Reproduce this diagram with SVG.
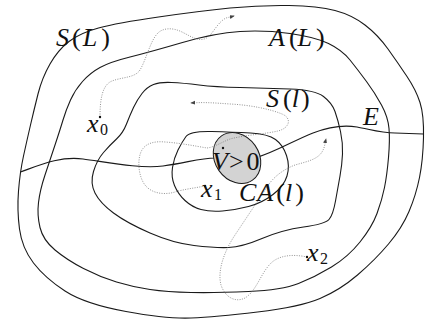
<svg xmlns="http://www.w3.org/2000/svg" width="431" height="320" viewBox="0 0 431 320">
<style>
.c{fill:none;stroke:#1a1a1a;stroke-width:1.1;stroke-linejoin:round}
.d{fill:none;stroke:#777;stroke-width:0.8;stroke-dasharray:1 1.4}
.t{font-family:"Liberation Serif","DejaVu Serif",serif;fill:#111;font-size:26px}
.i{font-style:italic}
.sub{font-size:16px}
.pt{fill:#111}
</style>
<defs>
<marker id="ar" viewBox="0 0 6 6" refX="5" refY="3" markerWidth="5" markerHeight="5" markerUnits="userSpaceOnUse" orient="auto">
<path d="M0,0.6 L6,3 L0,5.4 Z" fill="#444"/>
</marker>
</defs>
<rect width="431" height="320" fill="#fff"/>
<g id="curves">
<path id="SL" class="c" d="M 98.5,28 Q 117,23 158.5,17 Q 200,11 230,8 Q 260,5 289,5.5 Q 318,6 335,10.5 Q 352,15 365,25 Q 378,35 388,49 Q 398,63 407,76.5 Q 416,90 420,102.5 Q 424,115 423.5,137.5 Q 423,160 419.5,177.5 Q 416,195 409,211.5 Q 402,228 388.5,244 Q 375,260 357.5,275 Q 340,290 320,298.5 Q 300,307 257.5,312 Q 215,317 191,318 Q 167,319 126,311.5 Q 85,304 65,291 Q 45,278 33.5,263 Q 22,248 19.5,229 Q 17,210 18.5,191 Q 20,172 23.5,156 Q 27,140 30.5,125 Q 34,110 38,94 Q 42,78 50,64 Q 58,50 69,41.5 Q 80,33 98.5,28 Z"/>
<path id="AL" class="c" d="M 100,67.5 Q 110,62 130,57 Q 150,52 182.5,42.5 Q 215,33 240,31.5 Q 265,30 290,33.5 Q 315,37 328.5,43.5 Q 342,50 350,60 Q 358,70 366.5,81.5 Q 375,93 381.5,105 Q 388,117 389,128.5 Q 390,140 388.5,157.5 Q 387,175 384.5,187.5 Q 382,200 377,213.5 Q 372,227 360,242 Q 348,257 331.5,267 Q 315,277 298.5,283.5 Q 282,290 248.5,291.5 Q 215,293 191,292.5 Q 167,292 150,289.5 Q 133,287 116.5,282 Q 100,277 83.5,268.5 Q 67,260 55,250 Q 43,240 40,227.5 Q 37,215 38.5,202.5 Q 40,190 45,175 Q 50,160 55,145 Q 60,130 63,120 Q 66,110 70.5,100 Q 75,90 82.5,81.5 Q 90,73 100,67.5 Z"/>
<path id="Sl" class="c" d="M 153.5,84.5 Q 160,82 171.5,82.5 Q 183,83 199,85 Q 215,87 240,87.5 Q 265,88 290,89 Q 315,90 323.5,96.5 Q 332,103 335,111.5 Q 338,120 340.5,131.5 Q 343,143 342.5,154 Q 342,165 340,176 Q 338,187 335.5,201 Q 333,215 329,219.5 Q 325,224 303.5,227 Q 282,230 262,238.5 Q 242,247 228.5,247.5 Q 215,248 194,245.5 Q 173,243 150,233 Q 127,223 113.5,213 Q 100,203 95,193 Q 90,183 93.5,171.5 Q 97,160 103.5,152.5 Q 110,145 116.5,139 Q 123,133 126.5,124 Q 130,115 133.5,107.5 Q 137,100 142,93.5 Q 147,87 153.5,84.5 Z"/>
<path id="CAl" class="c" d="M 186,136.5 Q 190,131 211.5,131.5 Q 233,132 250.5,133 Q 268,134 275.5,139.5 Q 283,145 286.5,155.5 Q 290,166 287,176 Q 284,186 273,194.5 Q 262,203 248.5,206.5 Q 235,210 222.5,211 Q 210,212 201,209.5 Q 192,207 185,200.5 Q 178,194 174.5,185.5 Q 171,177 172.5,167.5 Q 174,158 178,150 Q 182,142 186,136.5 Z"/>
<path id="E" class="c" d="M 20.5,172 C 40,165 60,156 83,159 S 140,169 163,166 S 200,158 215,158 L 258,157 C 275,152 295,140 313,133 S 345,125 357,127 S 380,133 395,133 L 423.5,134"/>
</g>
<g id="region">
<ellipse cx="237" cy="158" rx="22" ry="27" transform="rotate(-35 237 158)" fill="#d3d3d3" stroke="#1a1a1a" stroke-width="1"/>
</g>
<g id="trajectories">
<path class="d" marker-end="url(#ar)" d="M 100,117 C 100,100 102,85 112,81 C 122,77 135,78 140,70 C 146,60 150,42 157,34 C 162,28 172,27 182,32 C 192,37 200,43 208,37 C 214,32 218,22 226,18 L 234,16"/>
<path class="d" marker-end="url(#ar)" d="M 205,186 C 195,188 185,189 175,192 C 165,195 152,194 145,185 C 138,176 137,158 142,150 C 146,143 155,141 165,142 C 180,143 195,146 207,148 C 215,147 222,142 230,139 C 245,135 265,134 278,131 C 290,128 292,118 282,114 C 270,109 250,105 230,104 C 215,103 205,102 191,103"/>
<path class="d" marker-end="url(#ar)" d="M 307,257 C 298,255 285,254 275,260 C 262,268 258,290 245,298 C 235,303 225,297 221,285 C 217,270 225,250 235,235 C 245,220 255,205 265,190 C 272,178 282,170 295,165 C 305,162 317,160 322,152 C 325,147 325,143 326,139"/>
<circle class="pt" cx="100" cy="117" r="1.2"/>
<circle class="pt" cx="205" cy="186" r="1.2"/>
<circle class="pt" cx="307" cy="257" r="1.2"/>
<circle class="pt" cx="223" cy="148" r="1.2"/>
</g>
<g id="labels">
<text class="t" x="56" y="46"><tspan class="i">S</tspan><tspan dx="3">(</tspan><tspan class="i" dx="2">L</tspan><tspan dx="4">)</tspan></text>
<text class="t" x="269" y="46"><tspan class="i">A</tspan><tspan dx="4">(</tspan><tspan class="i">L</tspan><tspan dx="4">)</tspan></text>
<text class="t" x="266" y="107"><tspan class="i">S</tspan><tspan dx="4">(</tspan><tspan class="i">l</tspan><tspan dx="2">)</tspan></text>
<text class="t i" x="363" y="125">E</text>
<text class="t" x="239" y="201"><tspan class="i">C</tspan><tspan class="i" dx="1">A</tspan><tspan dx="3">(</tspan><tspan class="i">l</tspan><tspan dx="3">)</tspan></text>
<text class="t" x="212" y="170"><tspan class="i">V</tspan><tspan dx="1">&gt;</tspan><tspan dx="3">0</tspan></text>
<text class="t" x="87" y="132"><tspan class="i">x</tspan><tspan class="sub" dx="1.5" dy="3">0</tspan></text>
<text class="t" x="201" y="197"><tspan class="i">x</tspan><tspan class="sub" dx="1.5" dy="3">1</tspan></text>
<text class="t" x="307" y="261"><tspan class="i">x</tspan><tspan class="sub" dx="1.5" dy="3">2</tspan></text>
</g>
</svg>
